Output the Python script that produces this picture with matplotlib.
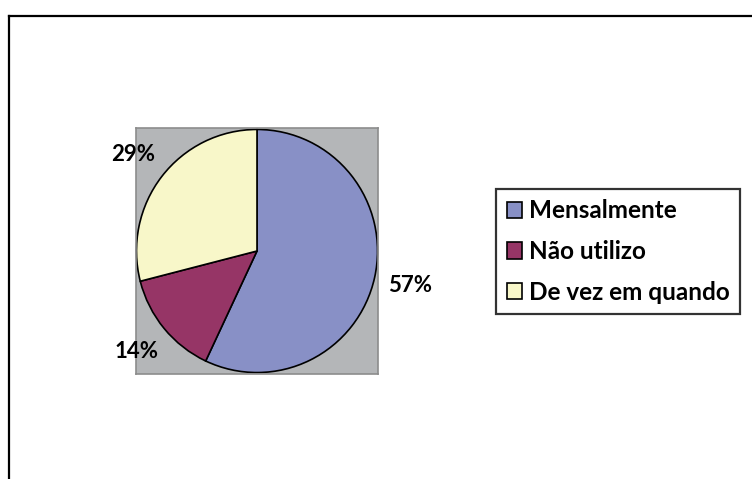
import matplotlib.pyplot as plt
from matplotlib.lines import Line2D
from matplotlib.patches import Patch

# data
categories = ["Mensalmente", "Não utilizo", "De vez em quando"]
shares = [57, 14, 29]
colors = ["#8890C6", "#963566", "#F8F7C9"]

plt.rcParams["font.family"] = ["Lato", "DejaVu Sans"]
plt.rcParams["font.weight"] = "bold"

W, H = 752, 479
fig = plt.figure(figsize=(W / 100, H / 100), dpi=100)

# outer chart frame (left and top edges visible)
fig.add_artist(Line2D([9 / W, 9 / W], [0, 1 - 16 / H], color="black", lw=1.6))
fig.add_artist(Line2D([9 / W, 1.0], [1 - 16 / H, 1 - 16 / H], color="black", lw=1.6))

# gray plot area with the pie
ax = fig.add_axes([136 / W, 1 - 374 / H, 242 / W, 246 / H])
wedges, texts, autotexts = ax.pie(
    shares,
    colors=colors,
    startangle=90,
    counterclock=False,
    autopct="%.0f%%",
    pctdistance=1.3,
    wedgeprops=dict(edgecolor="black", linewidth=1.2),
    textprops=dict(fontsize=16, fontweight="bold", color="black"),
)
ax.set_aspect("auto")
ax.set_xlim(-1.004, 1.004)
ax.set_ylim(-1.012, 1.012)
ax.set_frame_on(True)
ax.set_facecolor("#B4B6B8")
for s in ax.spines.values():
    s.set_color("#8C8C8C")
    s.set_linewidth(1.2)
ax.set_xticks([])
ax.set_yticks([])
for t in autotexts:
    t.set_clip_on(False)

# legend
handles = [Patch(facecolor=c, edgecolor="black", linewidth=1.2) for c in colors]
leg = fig.legend(
    handles,
    categories,
    loc="center",
    bbox_to_anchor=(618 / W, 1 - 251.5 / H),
    fontsize=17.5,
    frameon=True,
    fancybox=False,
    handlelength=0.65,
    handleheight=0.65,
    handletextpad=0.25,
    labelspacing=0.72,
    borderpad=0.42,
    borderaxespad=0,
)
leg.get_frame().set_edgecolor("black")
leg.get_frame().set_linewidth(1.6)
for t in leg.get_texts():
    t.set_fontweight("bold")

fig.savefig("out.png", dpi=100)
